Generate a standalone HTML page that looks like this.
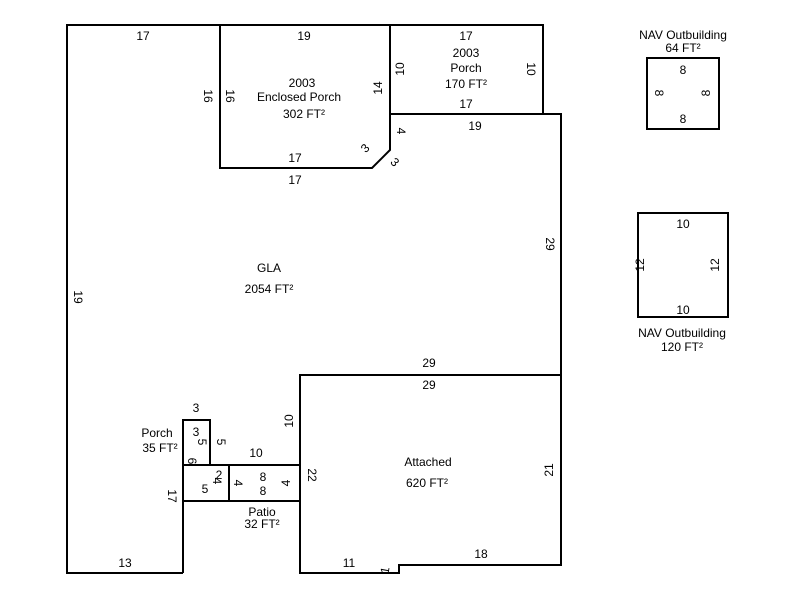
<!DOCTYPE html>
<html><head><style>body{margin:0;background:#fff}svg{display:block}text{font-family:"Liberation Sans",Arial,sans-serif;font-size:12px;fill:#000}</style></head><body>
<svg width="800" height="600" xmlns="http://www.w3.org/2000/svg">
<g fill="none" stroke="#000" stroke-width="2">
<path d="M183,573 H67 V25 H543 V114 H561 V565 H399 V573 H300 V375 H561"/>
<path d="M300,465 H210 V420 H183 V573"/>
<path d="M220,25 V168 H372 L390,150 V25"/>
<path d="M390,114 H543"/>
<path d="M183,465 H210 M183,501 H300 M229,465 V501"/>
<rect x="647" y="58" width="72" height="71"/>
<rect x="638" y="213" width="90" height="104"/>
</g>
<g text-anchor="middle">
<text x="143" y="40">17</text>
<text x="304" y="40">19</text>
<text x="466" y="40">17</text>
<text x="466" y="57">2003</text>
<text x="466" y="72">Porch</text>
<text x="466" y="88">170 FT²</text>
<text x="466" y="108">17</text>
<text x="475" y="130">19</text>
<text x="302" y="87">2003</text>
<text x="299" y="101">Enclosed Porch</text>
<text x="304" y="118">302 FT²</text>
<text x="295" y="162">17</text>
<text x="295" y="184">17</text>
<text x="269" y="272">GLA</text>
<text x="269" y="293">2054 FT²</text>
<text x="429" y="367">29</text>
<text x="429" y="389">29</text>
<text x="428" y="466">Attached</text>
<text x="427" y="487">620 FT²</text>
<text x="481" y="558">18</text>
<text x="349" y="567">11</text>
<text x="125" y="567">13</text>
<text x="196" y="412">3</text>
<text x="157" y="437">Porch</text>
<text x="160" y="452">35 FT²</text>
<text x="196" y="436">3</text>
<text x="256" y="457">10</text>
<text x="219" y="479">2</text>
<text x="205" y="493">5</text>
<text x="263" y="481">8</text>
<text x="263" y="495">8</text>
<text x="262" y="516">Patio</text>
<text x="262" y="528">32 FT²</text>
<text x="683" y="39">NAV Outbuilding</text>
<text x="683" y="52">64 FT²</text>
<text x="683" y="74">8</text>
<text x="683" y="123">8</text>
<text x="683" y="228">10</text>
<text x="683" y="314">10</text>
<text x="682" y="337">NAV Outbuilding</text>
<text x="682" y="351">120 FT²</text>
</g>
<g text-anchor="middle">
<text transform="translate(74,297) rotate(90)">19</text>
<text transform="translate(204,96) rotate(90)">16</text>
<text transform="translate(226,96) rotate(90)">16</text>
<text transform="translate(382,88) rotate(-90)">14</text>
<text transform="translate(404,69) rotate(-90)">10</text>
<text transform="translate(527,69) rotate(90)">10</text>
<text transform="translate(397,131) rotate(90)">4</text>
<text transform="translate(368,151) rotate(-45)">3</text>
<text transform="translate(392,165) rotate(45)">3</text>
<text transform="translate(546,244) rotate(90)">29</text>
<text transform="translate(293,421) rotate(-90)">10</text>
<text transform="translate(308,475) rotate(90)">22</text>
<text transform="translate(553,470) rotate(-90)">21</text>
<text transform="translate(389,571) rotate(-80)">1</text>
<text transform="translate(168,496) rotate(90)">17</text>
<text transform="translate(188,461) rotate(90)">6</text>
<text transform="translate(198,442) rotate(90)">5</text>
<text transform="translate(217,442) rotate(90)">5</text>
<text transform="translate(213,481) rotate(90)">4</text>
<text transform="translate(234,483) rotate(90)">4</text>
<text transform="translate(290,483) rotate(-90)">4</text>
<text transform="translate(655,93) rotate(90)">8</text>
<text transform="translate(710,93) rotate(-90)">8</text>
<text transform="translate(644,265) rotate(-90)">12</text>
<text transform="translate(719,265) rotate(-90)">12</text>
</g>
</svg>
</body></html>
